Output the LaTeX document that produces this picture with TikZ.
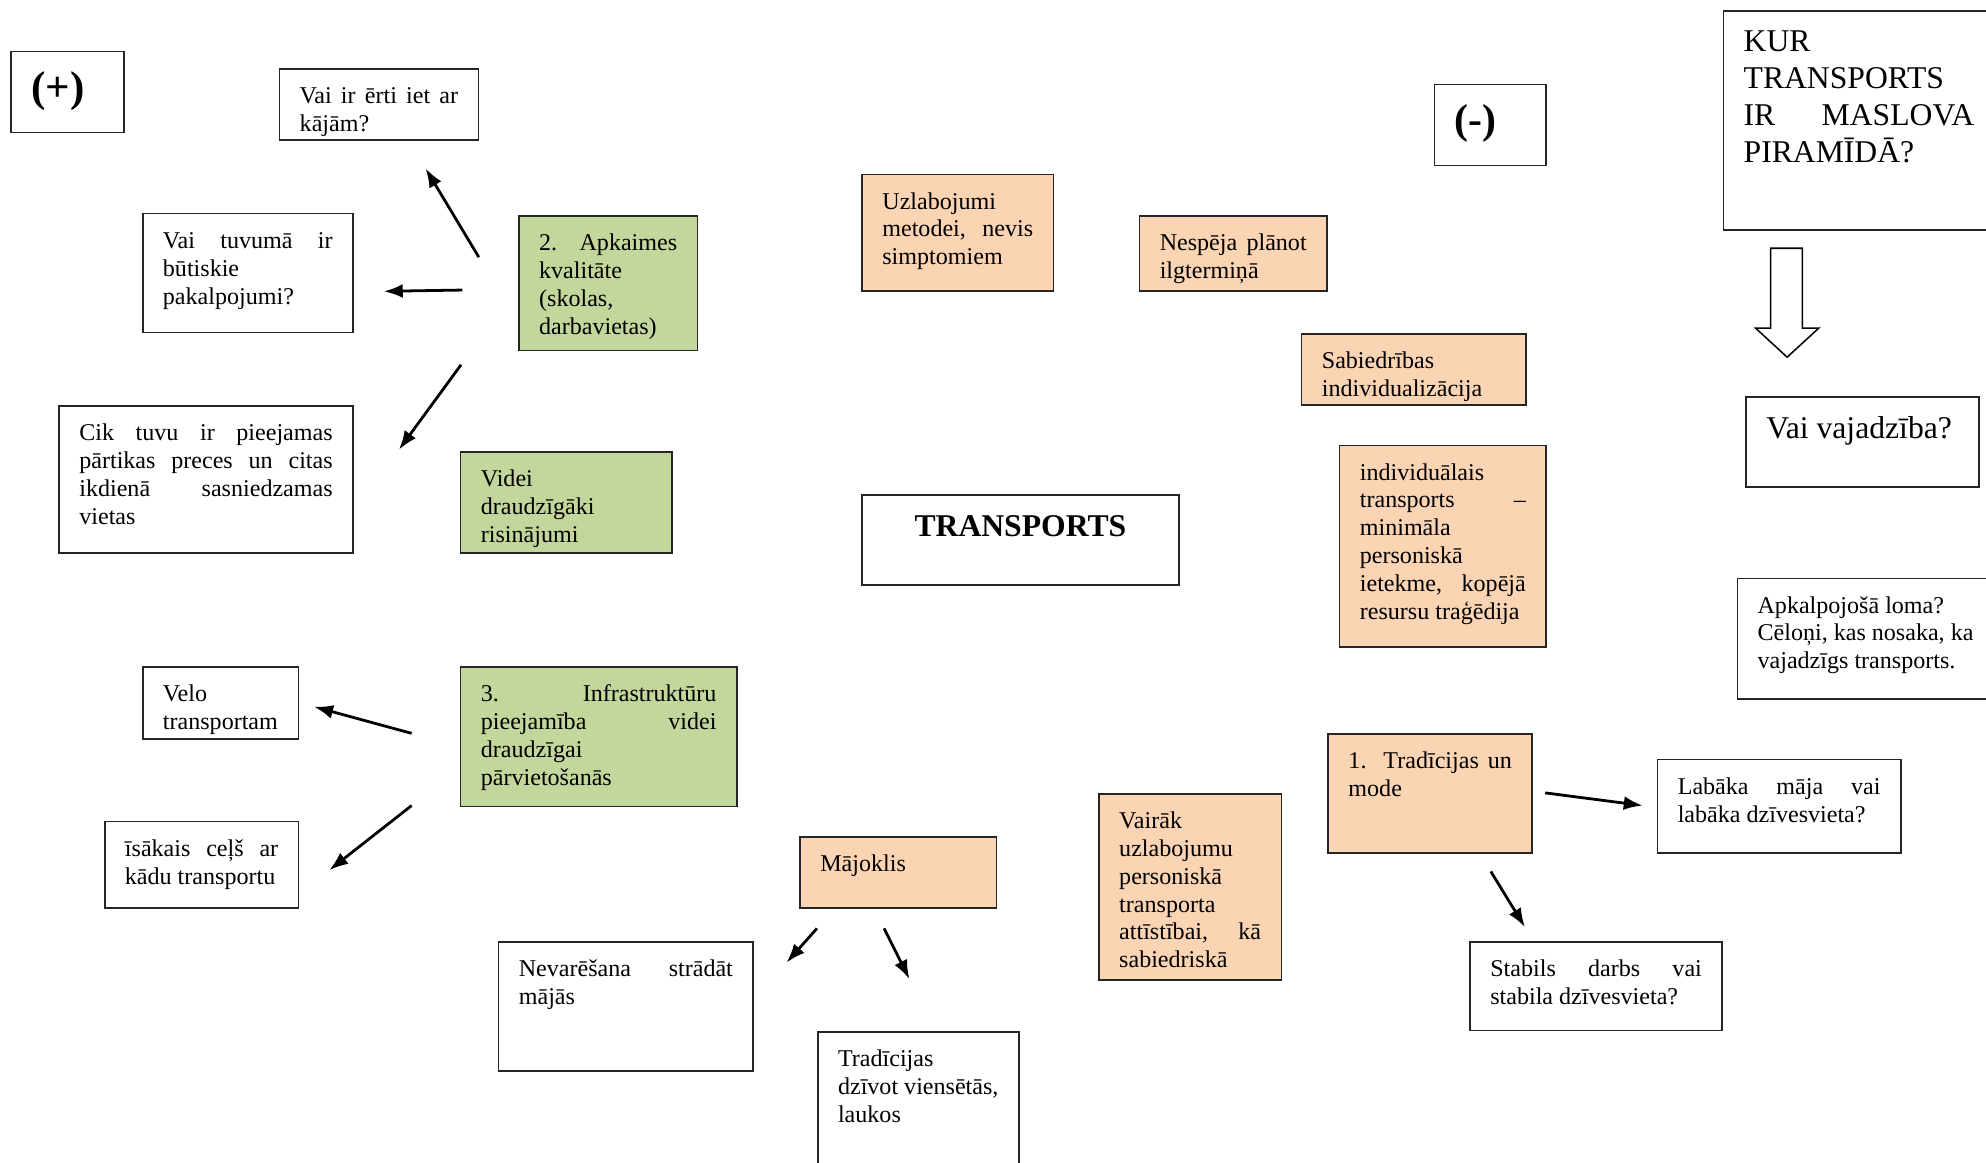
\documentclass[tikz,border=0pt]{standalone}
\usepackage{fontspec}
\setmainfont{Liberation Serif}
\usetikzlibrary{arrows.meta}
\definecolor{peach}{HTML}{FBD4B4}
\definecolor{leaf}{HTML}{C3D69B}
\hyphenpenalty=10000
\exhyphenpenalty=10000
\newcommand\cellbox[3]{\parbox[t][#2pt][t]{#1pt}{\vspace*{2pt}\strut#3}}
\begin{document}
\begin{tikzpicture}[x=1pt, y=-1pt,
    box/.style = {draw=black!85, line width=1.3pt, anchor=north west, inner xsep=16pt, inner ysep=10pt, font=\fontsize{19}{22}\selectfont},
    peachbox/.style = {box, fill=peach},
    leafbox/.style = {box, fill=leaf},
    big/.style = {font=\fontsize{25}{29}\selectfont},
    arr/.style = {-{Latex[length=15pt, width=11pt]}, line width=2.2pt}]
  \useasboundingbox (0,0) rectangle (1568,918);
  \clip (0,0) rectangle (1568,918);

  % (+)
  \node[box, font=\fontsize{34}{39}\selectfont\bfseries] (plus) at (8,40) {\cellbox{57}{44}{(+)}};
  \node[box] (walk) at (220,54) {\cellbox{125}{36}{Vai ir ērti iet ar\linebreak kājām?}};
  \node[box] (serv) at (112,168) {\cellbox{134}{74}{Vai tuvumā ir\linebreak būtiskie\\ pakalpojumi?}};
  \node[leafbox] (nbhd) at (409,170) {\cellbox{109}{86}{2. Apkaimes\linebreak kvalitāte\\ (skolas,\\ darbavietas)}};
  \node[box] (food) at (46,320) {\cellbox{200}{96}{Cik tuvu ir pieejamas\linebreak pārtikas preces un citas\linebreak ikdienā sasniedzamas\linebreak vietas}};
  \node[leafbox] (eco) at (363,356) {\cellbox{135}{60}{Videi\\ draudzīgāki\\ risinājumi}};
  \node[box] (bike) at (112,526) {\cellbox{91}{37}{Velo\\ transportam}};
  \node[leafbox] (infra) at (363,526) {\cellbox{186}{90}{3. Infrastruktūru\linebreak pieejamība videi\linebreak draudzīgai\\ pārvietošanās}};
  \node[box] (short) at (82,648) {\cellbox{121}{48}{īsākais ceļš ar\linebreak kādu transportu}};

  \coordinate (s1) at (378,203); \coordinate (e1) at (336,133);
  \coordinate (s2) at (365,229); \coordinate (e2) at (303,230);
  \coordinate (s3) at (364,288); \coordinate (e3) at (315,355);
  \coordinate (s4) at (325,579); \coordinate (e4) at (248,558);
  \coordinate (s5) at (325,636); \coordinate (e5) at (260,687);
  \draw[arr] (s1) -- (e1);
  \draw[arr] (s2) -- (e2);
  \draw[arr] (s3) -- (e3);
  \draw[arr] (s4) -- (e4);
  \draw[arr] (s5) -- (e5);

  % middle
  \node[peachbox] (method) at (680,137) {\cellbox{119}{72}{Uzlabojumi\\ metodei, nevis\linebreak simptomiem}};
  \node[box, big] (transp) at (680,390) {\parbox[t][51pt][t]{218pt}{\vspace*{3pt}\centering\strut\textbf{TRANSPORTS}}};
  \node[peachbox] (plan) at (899,170) {\cellbox{116}{39}{Nespēja plānot\linebreak ilgtermiņā}};
  \node[peachbox] (indiv) at (1027,263) {\cellbox{145}{36}{Sabiedrības\\ individualizācija}};
  \node[peachbox] (tragedy) at (1057,351) {\cellbox{131}{139}{individuālais\\ transports –\linebreak minimāla\\ personiskā\\ ietekme, kopējā\linebreak resursu traģēdija}};
  \node[box, font=\fontsize{33}{38}\selectfont\bfseries] (minus) at (1132,66) {\cellbox{56}{44}{(-)}};

  % housing
  \node[peachbox] (housing) at (631,660) {\cellbox{123}{36}{Mājoklis}};
  \node[box] (homework) at (393,743) {\cellbox{169}{82}{Nevarēšana strādāt\linebreak mājās}};
  \node[box] (rural) at (645,814) {\cellbox{127}{106}{Tradīcijas\\ dzīvot viensētās,\\ laukos}};
  \coordinate (s6) at (645,733); \coordinate (e6) at (621,760);
  \coordinate (s7) at (698,733); \coordinate (e7) at (718,773);
  \draw[arr] (s6) -- (e6);
  \draw[arr] (s7) -- (e7);

  % traditions
  \node[peachbox] (more) at (867,626) {\cellbox{112}{127}{Vairāk\\ uzlabojumu\\ personiskā\\ transporta\\ attīstībai, kā\linebreak sabiedriskā}};
  \node[peachbox] (trad) at (1048,579) {\cellbox{129}{74}{1. Tradīcijas un\linebreak mode}};
  \node[box] (better) at (1308,599) {\cellbox{160}{54}{Labāka māja vai\linebreak labāka dzīvesvieta?}};
  \node[box] (stable) at (1160,743) {\cellbox{167}{50}{Stabils darbs vai\linebreak stabila dzīvesvieta?}};
  \coordinate (s8) at (1220,626); \coordinate (e8) at (1297,636);
  \coordinate (s9) at (1177,688); \coordinate (e9) at (1204,732);
  \draw[arr] (s8) -- (e8);
  \draw[arr] (s9) -- (e9);

  % right column
  \node[box, big] (maslow) at (1360,8) {\cellbox{608}{153}{\parbox[t]{182pt}{\strut KUR\\ TRANSPORTS\\ IR MASLOVA\linebreak PIRAMĪDĀ?}}};
  \draw[line width=1.2pt, fill=white] (1398,196) -- (1423,196) -- (1423,259) -- (1436,259)
    -- (1411,282) -- (1386,259) -- (1398,259) -- cycle;
  \node[box, big] (need) at (1378,313) {\cellbox{152}{51}{\vspace*{1pt}Vai vajadzība?}};
  \node[box] (role) at (1371,456) {\cellbox{608}{75}{Apkalpojošā loma?\\ Cēloņi, kas nosaka, ka\\ vajadzīgs transports.}};
\end{tikzpicture}
\end{document}
